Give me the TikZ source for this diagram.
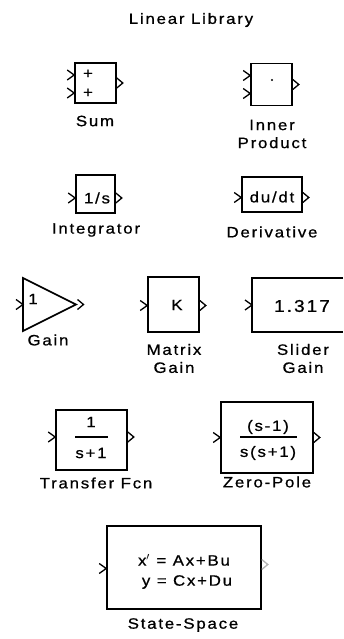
\documentclass[tikz,border=0pt]{standalone}
\usepackage{fontspec}
\setmainfont{Liberation Sans}[FakeStretch=1.12,LetterSpace=12,FakeBold=0.8]
\usetikzlibrary{calc}
\begin{document}
\begin{tikzpicture}[x=1pt,y=-1pt,
  blk/.style={draw, line width=1.6pt, inner sep=0pt},
  lbl/.style={font=\fontsize{15}{18}\selectfont, align=center, inner sep=0pt},
  txt/.style={font=\fontsize{15}{16}\selectfont, inner sep=0pt},
  port/.style={line width=1.3pt, line join=miter},
]
\useasboundingbox (0,0) rectangle (343,639);
\tikzset{
  inport/.pic={\draw[port] (-7,-5) -- (0,0) -- (-7,5);},
  outport/.pic={\draw[port] (0,-5) -- (6,0) -- (0,5);}
}
% title
\node[lbl] (title) at (191,20) {Linear Library};

% Sum
\node[blk, minimum width=41pt, minimum height=40pt] (sum) at (95.5,83) {};
\node[txt] (sumpa) at (88,74) {+};
\node[txt] (sumpb) at (88,93) {+};
\pic at ($(sum.west)+(0,-8)$) {inport};
\pic at ($(sum.west)+(0,10)$) {inport};
\pic at (sum.east) {outport};
\node[lbl] (suml) at (95,121) {Sum};

% Inner product
\node[blk, minimum width=41pt, minimum height=42pt] (ip) at (271.5,84.5) {};
\fill (272,80) circle (1.1pt);
\pic at ($(ip.west)+(0,-9)$) {inport};
\pic at ($(ip.west)+(0,9)$) {inport};
\pic at (ip.east) {outport};
\node[lbl] (ipl) at (272,134) {Inner\\Product};

% Integrator
\node[blk, minimum width=39pt, minimum height=38pt] (int) at (95.5,194) {};
\node[txt] (intt) at (97,198) {1/s};
\pic at ($(int.west)+(0,4)$) {inport};
\pic at ($(int.east)+(0,4)$) {outport};
\node[lbl] (intl) at (96,230) {Integrator};

% Derivative
\node[blk, minimum width=60pt, minimum height=35pt] (der) at (272,194.5) {};
\node[txt] (dert) at (272,197) {du/dt};
\pic at ($(der.west)+(0,3)$) {inport};
\pic at ($(der.east)+(0,3)$) {outport};
\node[lbl] (derl) at (272,232) {Derivative};

% Gain
\coordinate (ga) at (23,278);
\coordinate (gb) at (23,331);
\coordinate (gt) at (76,304.5);
\draw[line width=1.6pt, line join=miter] (ga) -- (gt) -- (gb) -- cycle;
\node[txt] (gaint) at (33,299) {1};
\pic at ($(ga)!0.5!(gb)$) {inport};
\pic at ($(gt)+(1.5,0)$) {outport};
\node[lbl] (gainl) at (48,340) {Gain};

% Matrix gain
\node[blk, minimum width=51pt, minimum height=55pt] (mg) at (173.5,304.5) {};
\node[txt] (mgt) at (177,305) {K};
\pic at ($(mg.west)+(0,1)$) {inport};
\pic at ($(mg.east)+(0,1)$) {outport};
\node[lbl] (mgl) at (174,358.5) {Matrix\\Gain};

% Slider gain (open at right edge)
\coordinate (sga) at (343,278);
\coordinate (sgb) at (252,278);
\coordinate (sgc) at (252,332);
\coordinate (sgd) at (343,332);
\draw[line width=1.6pt] (sga) -- (sgb) -- (sgc) -- (sgd);
\node[txt, font=\fontsize{17}{18}\selectfont] (sgt) at (302,306) {1.317};
\pic at ($(sgb)!0.5!(sgc)$) {inport};
\node[lbl] (sgl) at (303,358.5) {Slider\\Gain};

% Transfer Fcn
\node[blk, minimum width=71pt, minimum height=60pt] (tf) at (91.5,440) {};
\node[txt] (tfn) at (91,422) {1};
\draw[line width=1.2pt] (75,437) -- (108,437);
\node[txt] (tfd) at (91,453) {s+1};
\pic at ($(tf.west)+(0,-3)$) {inport};
\pic at ($(tf.east)+(0,-3)$) {outport};
\node[lbl] (tfl) at (96,483) {Transfer Fcn};

% Zero-Pole
\node[blk, minimum width=92pt, minimum height=71pt] (zp) at (267,437.5) {};
\node[txt] (zpn) at (268,427) {(s-1)};
\draw[line width=1.2pt] (240,437) -- (297,437);
\node[txt] (zpd) at (268,453) {s(s+1)};
\pic at (zp.west) {inport};
\pic at (zp.east) {outport};
\node[lbl] (zpl) at (267,482) {Zero-Pole};

% State-Space
\node[blk, minimum width=154pt, minimum height=83pt] (ss) at (184,567.5) {};
\node[txt] (ss1) at (184,560) {x$'$ = Ax+Bu};
\node[txt] (ss2) at (187,582) {y = Cx+Du};
\pic at ($(ss.west)+(0,1)$) {inport};
\begin{scope}[gray!60]
\pic at ($(ss.east)+(0,-3)$) {outport};
\end{scope}
\node[lbl] (ssl) at (183,625) {State-Space};
\end{tikzpicture}
\end{document}
